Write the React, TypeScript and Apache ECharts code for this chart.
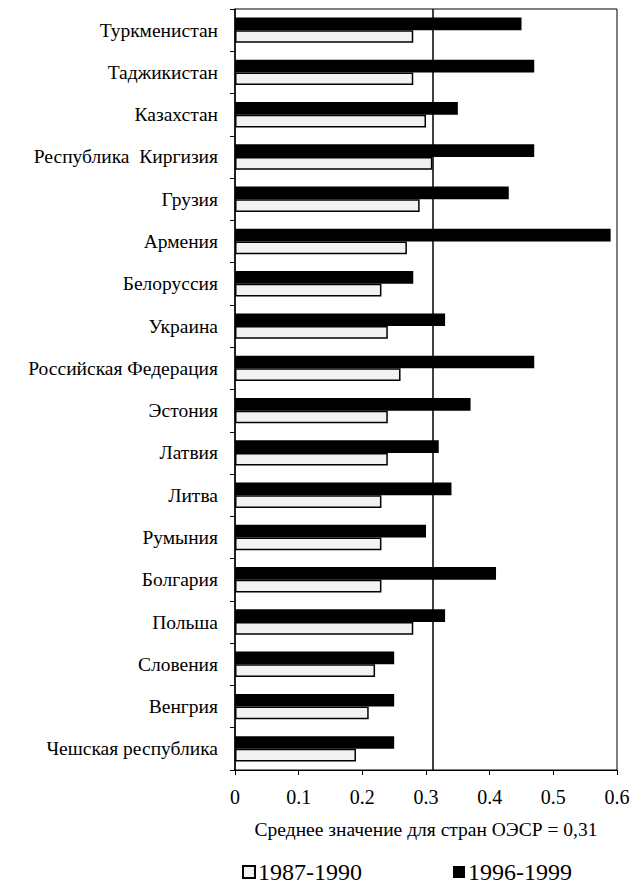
import React, { useEffect, useRef } from "react";
import * as echarts from "echarts";

const categories = [
  "Туркменистан",
  "Таджикистан",
  "Казахстан",
  "Республика  Киргизия",
  "Грузия",
  "Армения",
  "Белоруссия",
  "Украина",
  "Российская Федерация",
  "Эстония",
  "Латвия",
  "Литва",
  "Румыния",
  "Болгария",
  "Польша",
  "Словения",
  "Венгрия",
  "Чешская республика",
];

const values1987 = [0.28, 0.28, 0.30, 0.31, 0.29, 0.27, 0.23, 0.24, 0.26, 0.24, 0.24, 0.23, 0.23, 0.23, 0.28, 0.22, 0.21, 0.19];
const values1996 = [0.45, 0.47, 0.35, 0.47, 0.43, 0.59, 0.28, 0.33, 0.47, 0.37, 0.32, 0.34, 0.30, 0.41, 0.33, 0.25, 0.25, 0.25];

const xTicks = { min: 0, max: 0.6, interval: 0.1 };
const oecdMean = 0.31;
const axisTitle = "Среднее значение для стран ОЭСР = 0,31";
const seriesNames = ["1987-1990", "1996-1999"];

const FONT = "Liberation Serif";

export default function App() {
  const ref = useRef<HTMLDivElement>(null);

  useEffect(() => {
    document.body.style.margin = "0";
    if (!ref.current) return;
    const chart = echarts.init(ref.current, undefined, { renderer: "svg" });
    chart.setOption({
      animation: false,
      backgroundColor: "#fff",
      textStyle: { fontFamily: FONT, color: "#000" },
      grid: {
        left: 235,
        right: 20,
        top: 9,
        bottom: 119,
        show: true,
        borderColor: "#000",
        borderWidth: 1,
        backgroundColor: "transparent",
      },
      legend: {
        data: seriesNames,
        top: 860,
        left: 242,
        padding: 0,
        itemGap: 91,
        itemWidth: 12,
        itemHeight: 12,
        icon: "rect",
        textStyle: { fontFamily: FONT, fontSize: 24, color: "#000", padding: [0, 0, 0, -2] },
        selectedMode: false,
      },
      xAxis: {
        type: "value",
        min: xTicks.min,
        max: xTicks.max,
        interval: xTicks.interval,
        name: axisTitle,
        nameLocation: "middle",
        nameGap: 49,
        nameTextStyle: { fontFamily: FONT, fontSize: 19.5, color: "#000" },
        axisLine: { show: true, lineStyle: { color: "#000", width: 1 } },
        axisTick: { show: true, length: 5, lineStyle: { color: "#000" } },
        axisLabel: {
          fontFamily: FONT,
          fontSize: 20,
          color: "#000",
          margin: 17,
          formatter: (v: number) => (v === 0 ? "0" : String(Math.round(v * 10) / 10)),
        },
        splitLine: { show: false },
      },
      yAxis: {
        type: "category",
        inverse: true,
        data: categories,
        axisLine: { show: true, lineStyle: { color: "#000", width: 1.5 } },
        axisTick: { show: true, length: 5, lineStyle: { color: "#000" } },
        axisLabel: {
          fontFamily: FONT,
          fontSize: 19.5,
          color: "#000",
          margin: 17,
          padding: [0, 0, 8, 0],
          interval: 0,
        },
        splitLine: { show: false },
      },
      series: [
        {
          name: seriesNames[1],
          type: "bar",
          data: values1996,
          barCategoryGap: "40%",
          barGap: "0%",
          itemStyle: { color: "#000", borderColor: "#000", borderWidth: 0 },
          markLine: {
            silent: true,
            symbol: "none",
            label: { show: false },
            lineStyle: { color: "#000", type: "solid", width: 1.5 },
            data: [{ xAxis: oecdMean }],
          },
        },
        {
          name: seriesNames[0],
          type: "bar",
          data: values1987,
          barCategoryGap: "40%",
          barGap: "0%",
          itemStyle: { color: "#f2f2f2", borderColor: "#000", borderWidth: 1.5 },
        },
      ],
    });
    return () => chart.dispose();
  }, []);

  return <div ref={ref} style={{ width: 637, height: 889 }} />;
}
